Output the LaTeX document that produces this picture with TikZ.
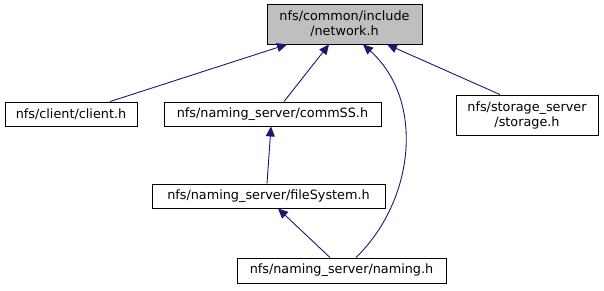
\documentclass[tikz,border=0pt]{standalone}
\usepackage{fontspec}
\setmainfont{DejaVu Sans}
\usetikzlibrary{arrows.meta}
\definecolor{edgeblue}{HTML}{191970}
\definecolor{hdrgray}{HTML}{BFBFBF}
\tikzset{
  filebox/.style={draw=black, line width=0.9pt, fill=white, inner sep=0pt,
    align=center, font=\fontsize{12.8}{15}\selectfont},
  dep/.style={draw=edgeblue, line width=0.9pt,
    -{Triangle[length=10pt,width=9pt]}},
}
\begin{document}
\begin{tikzpicture}[x=1pt,y=-1pt]
  \useasboundingbox (0,0) rectangle (604,291);

  % headers
  \node[filebox, fill=hdrgray, minimum width=155pt, minimum height=40pt]
    (network) at (344.5,24) {nfs/common/include\\/network.h};
  \node[filebox, minimum width=132pt, minimum height=24pt]
    (client) at (71,114) {nfs/client/client.h};
  \node[filebox, minimum width=217pt, minimum height=24pt]
    (commss) at (272.5,114) {nfs/naming\_server/commSS.h};
  \node[filebox, minimum width=142pt, minimum height=40pt]
    (storage) at (527,115) {nfs/storage\_server\\/storage.h};
  \node[filebox, minimum width=233pt, minimum height=24pt]
    (filesys) at (268.5,196) {nfs/naming\_server/fileSystem.h};
  \node[filebox, minimum width=209pt, minimum height=25pt]
    (naming) at (341.5,270.5) {nfs/naming\_server/naming.h};

  % include edges
  \draw[dep] ([xshift=39pt]client.north) -- ([xshift=-57.5pt]network.south);
  \draw[dep] ([xshift=11.5pt]commss.north) -- ([xshift=-15.5pt]network.south);
  \draw[dep] ([xshift=-1.5pt]filesys.north) -- ([xshift=-1.5pt]commss.south);
  \draw[dep] ([xshift=-11.5pt]naming.north) -- ([xshift=9.5pt]filesys.south);
  \draw[dep] ([xshift=14.5pt]naming.north)
    .. controls (415,200) and (425,100) .. ([xshift=18.5pt]network.south);
  \draw[dep] ([xshift=-27pt]storage.north) -- ([xshift=42.5pt]network.south);
\end{tikzpicture}
\end{document}
